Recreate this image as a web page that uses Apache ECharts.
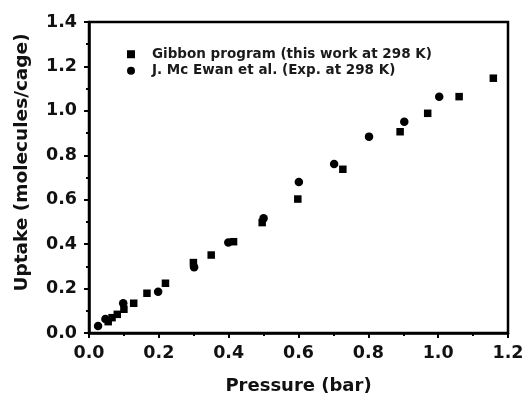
<!DOCTYPE html>
<html>
<head>
<meta charset="utf-8">
<script src="https://cdn.jsdelivr.net/npm/echarts@6/dist/echarts.min.js"></script>
<style>
	html, body { margin: 0; padding: 0; background: #fff; }
	#chart { width: 526px; height: 397px; }
</style>
</head>
<body>
<div id="chart"></div>
<script>
// Gibbon program (this work at 298 K): [pressure, uptake]
var gibbonData = [
	[0.055, 0.051], [0.066, 0.069], [0.081, 0.084], [0.100, 0.107], [0.128, 0.134],
	[0.166, 0.179], [0.219, 0.224], [0.299, 0.317], [0.350, 0.351], [0.414, 0.411],
	[0.496, 0.497], [0.598, 0.603], [0.727, 0.737], [0.891, 0.906], [0.970, 0.989],
	[1.060, 1.064], [1.158, 1.147]
];
// J. Mc Ewan et al. (Exp. at 298 K)
var expData = [
	[0.026, 0.032], [0.047, 0.063], [0.098, 0.134], [0.198, 0.186], [0.301, 0.296],
	[0.399, 0.407], [0.500, 0.516], [0.601, 0.680], [0.702, 0.761], [0.802, 0.884],
	[0.903, 0.951], [1.003, 1.064]
];
var seriesNames = ['Gibbon program (this work at 298 K)', 'J. Mc Ewan et al. (Exp. at 298 K)'];
var xTitle = 'Pressure (bar)';
var yTitle = 'Uptake (molecules/cage)';

var font = '"DejaVu Sans", sans-serif';
var myChart = echarts.init(document.getElementById('chart'));
var option = {
	animation: false,
	grid: {
		left: 89,
		right: 18,
		top: 22,
		bottom: 64,
		outerBoundsMode: 'none',
		containLabel: false,
		show: true,
		borderColor: '#000',
		borderWidth: 2.5
	},
	legend: {
		orient: 'vertical',
		left: 122,
		top: 41,
		itemGap: 0,
		itemWidth: 8,
		itemHeight: 8,
		textStyle: {
			fontFamily: font,
			fontWeight: 'bold',
			fontSize: 13.5,
			lineHeight: 16.5,
			color: '#1a1a1a',
			padding: [0, 0, 0, 12]
		},
		data: [
			{ name: seriesNames[0], icon: 'rect' },
			{ name: seriesNames[1], icon: 'circle' }
		]
	},
	xAxis: {
		type: 'value',
		min: 0,
		max: 1.2,
		interval: 0.2,
		name: xTitle,
		nameLocation: 'middle',
		nameGap: 44,
		nameTextStyle: { fontFamily: font, fontWeight: 'bold', fontSize: 18, color: '#111' },
		axisLine: { lineStyle: { color: '#000', width: 2.5 } },
		axisTick: { show: true, length: 5, lineStyle: { color: '#000', width: 2 } },
		minorTick: { show: true, splitNumber: 2, length: 3, lineStyle: { color: '#000', width: 2 } },
		axisLabel: {
			margin: 11,
			fontFamily: font, fontWeight: 'bold', fontSize: 17.5, color: '#111',
			formatter: function (v) { return v.toFixed(1); }
		},
		splitLine: { show: false }
	},
	yAxis: {
		type: 'value',
		min: 0,
		max: 1.4,
		interval: 0.2,
		name: yTitle,
		nameLocation: 'middle',
		nameGap: 57,
		nameTextStyle: {
			fontFamily: font, fontWeight: 'bold', fontSize: 18.5, color: '#111',
			padding: [0, 0, 0, 30]
		},
		axisLine: { lineStyle: { color: '#000', width: 2.5 } },
		axisTick: { show: true, length: 5, lineStyle: { color: '#000', width: 2 } },
		minorTick: { show: true, splitNumber: 2, length: 3, lineStyle: { color: '#000', width: 2 } },
		axisLabel: {
			margin: 12,
			fontFamily: font, fontWeight: 'bold', fontSize: 17.5, color: '#111',
			formatter: function (v) { return v.toFixed(1); }
		},
		splitLine: { show: false }
	},
	series: [
		{
			name: seriesNames[0],
			type: 'scatter',
			symbol: 'rect',
			symbolSize: 7.5,
			itemStyle: { color: '#000', opacity: 1 },
			data: gibbonData
		},
		{
			name: seriesNames[1],
			type: 'scatter',
			symbol: 'circle',
			symbolSize: 8.5,
			itemStyle: { color: '#000', opacity: 1 },
			data: expData
		}
	]
};
myChart.setOption(option);
</script>
</body>
</html>
